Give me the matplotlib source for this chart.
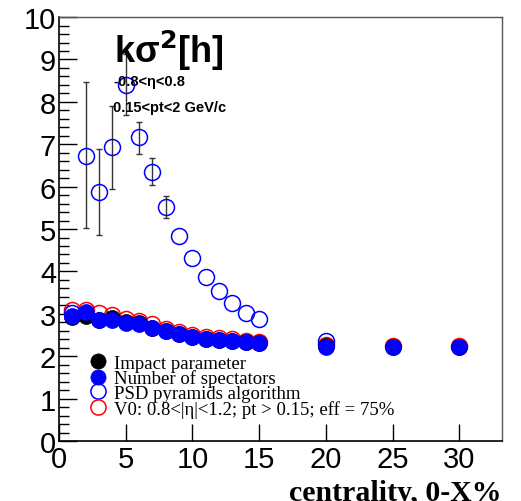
import matplotlib
matplotlib.use("Agg")
import matplotlib.pyplot as plt
from matplotlib.ticker import MultipleLocator

# ---- data ----
cent = [1, 2, 3, 4, 5, 6, 7, 8, 9, 10, 11, 12, 13, 14, 15, 20, 25, 30]
impact = [2.92, 2.94, 2.86, 2.90, 2.80, 2.79, 2.67, 2.60, 2.52, 2.46, 2.41, 2.39, 2.37, 2.33, 2.32, 2.23, 2.22, 2.22]
nspect = [2.94, 3.05, 2.85, 2.85, 2.78, 2.76, 2.66, 2.60, 2.52, 2.46, 2.41, 2.39, 2.37, 2.33, 2.32, 2.22, 2.22, 2.22]
v0 = [3.10, 3.10, 3.03, 2.97, 2.88, 2.84, 2.76, 2.64, 2.56, 2.50, 2.46, 2.43, 2.41, 2.37, 2.33, 2.26, 2.24, 2.24]

psd_x = [1, 2, 3, 4, 5, 6, 7, 8, 9, 10, 11, 12, 13, 14, 15, 20]
psd = [3.03, 6.73, 5.87, 6.94, 8.40, 7.16, 6.34, 5.51, 4.84, 4.32, 3.87, 3.53, 3.25, 3.03, 2.88, 2.37]
psd_err_lo = [0.0, 1.71, 1.01, 1.00, 0.71, 0.38, 0.30, 0.25, 0.0, 0.0, 0.0, 0.0, 0.0, 0.0, 0.0, 0.0]
psd_err_hi = [0.0, 1.74, 1.02, 0.97, 0.73, 0.37, 0.33, 0.26, 0.0, 0.0, 0.0, 0.0, 0.0, 0.0, 0.0, 0.0]

labels = ["Impact parameter", "Number of spectators", "PSD pyramids algorithm",
          "V0: 0.8<|\u03b7|<1.2; pt > 0.15; eff = 75%"]

fig = plt.figure(figsize=(5.21, 5.02), dpi=100)
ax = fig.add_axes([0.1132, 0.1195, 0.8503, 0.8445])

# error bars only where an error exists
eidx = [i for i in range(len(psd_x)) if psd_err_lo[i] > 0 or psd_err_hi[i] > 0]
ax.errorbar([psd_x[i] for i in eidx], [psd[i] for i in eidx],
            yerr=[[psd_err_lo[i] for i in eidx], [psd_err_hi[i] for i in eidx]],
            fmt="none", ecolor="#333333", elinewidth=1.0, capsize=2.5, capthick=1.0, zorder=1)

ms = 11.5
h4, = ax.plot(cent, v0, "o", ms=ms, mfc="none", mec="red", mew=1.1, ls="none", zorder=2)
h3, = ax.plot(psd_x, psd, "o", ms=ms, mfc="none", mec="blue", mew=1.1, ls="none", zorder=3)
h1, = ax.plot(cent, impact, "o", ms=ms, mfc="black", mec="black", mew=0.5, ls="none", zorder=4)
h2, = ax.plot(cent, nspect, "o", ms=ms, mfc="blue", mec="blue", mew=0.5, ls="none", zorder=5)

ax.set_xlim(0, 33.2)
ax.set_ylim(0, 10)
ax.xaxis.set_major_locator(MultipleLocator(5))
ax.yaxis.set_major_locator(MultipleLocator(1))
ax.yaxis.set_minor_locator(MultipleLocator(0.2))
ax.tick_params(axis="both", which="both", direction="in", top=False, right=False)
ax.tick_params(axis="y", which="major", length=13, width=1)
ax.tick_params(axis="y", which="minor", length=7, width=1)
ax.tick_params(axis="x", which="major", length=12, width=1, pad=3)
ax.tick_params(axis="y", which="major", pad=2)
for lab in ax.get_xticklabels() + ax.get_yticklabels():
    lab.set_fontfamily("Liberation Sans")
    lab.set_fontsize(21)
for s in ["left", "bottom"]:
    ax.spines[s].set_linewidth(1.2)
for s in ["top", "right"]:
    ax.spines[s].set_linewidth(1.0)
    ax.spines[s].set_color("#555555")

ax.text(1.0, -0.139, "centrality, 0-X%", transform=ax.transAxes, ha="right", va="baseline",
        fontsize=21.5, fontweight="bold", family="Liberation Serif")

ax.text(0.125, 0.975, "k\u03c3$^{\\mathbf{2}}$[h]", transform=ax.transAxes, ha="left", va="top",
        fontsize=26, fontweight="bold", family="Liberation Sans")
ax.text(0.122, 0.85, "-0.8<\u03b7<0.8", transform=ax.transAxes, ha="left", va="center",
        fontsize=10.5, fontweight="bold", family="Liberation Sans")
ax.text(0.122, 0.787, "0.15<pt<2 GeV/c", transform=ax.transAxes, ha="left", va="center",
        fontsize=10.5, fontweight="bold", family="Liberation Sans")

leg = ax.legend([h1, h2, h3, h4], labels, loc="upper left", bbox_to_anchor=(0.04, 0.222),
                frameon=False, prop={"family": "Liberation Serif", "size": 13.5},
                handletextpad=0.1, labelspacing=-0.12, borderaxespad=0, markerscale=0.95,
                handlelength=1.5)

fig.savefig("out.png", dpi=100)
